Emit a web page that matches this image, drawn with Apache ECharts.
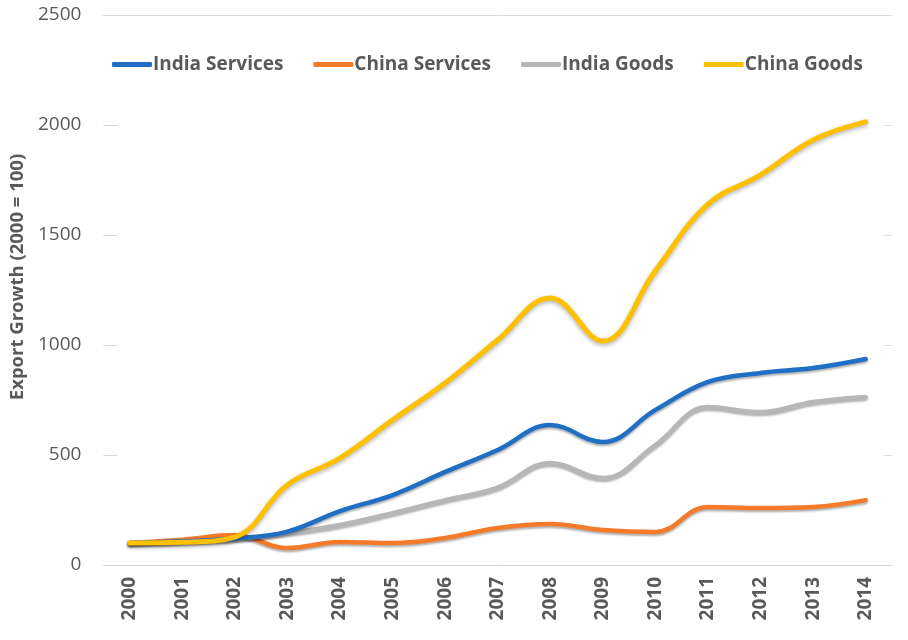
<!DOCTYPE html>
<html><head><meta charset="utf-8">
<script src="https://cdn.jsdelivr.net/npm/echarts@6/dist/echarts.min.js"></script>
<style>html,body{margin:0;padding:0;background:#fff}#c{width:908px;height:640px}</style>
</head><body><div id="c"></div>
<script>
const years = ['2000','2001','2002','2003','2004','2005','2006','2007','2008','2009','2010','2011','2012','2013','2014'];
const indiaServices = [100,108,120,152,245,318,423,523,636,559,705,832,873,895,936];
const chinaServices = [100,115,136,77,105,100,123,168,186,159,150,264,259,264,295];
const indiaGoods    = [100,106,118,145,182,236,295,352,464,395,545,718,695,741,764];
const chinaGoods    = [100,103,127,364,486,659,827,1023,1214,1018,1337,1640,1773,1932,2014];
const seriesNames = ['India Services','China Services','India Goods','China Goods'];
const colors = ['#1F6FC5','#F47B2A','#B7B7B7','#FFC000'];
const yTicks = [0,500,1000,1500,2000,2500];

const txt = '#595959';
const font = '"Open Sans", "Liberation Sans", sans-serif';
const chart = echarts.init(document.getElementById('c'), null, {renderer:'canvas'});
const dataSets = [indiaServices, chinaServices, indiaGoods, chinaGoods];
chart.setOption({
  animation:false,
  backgroundColor:'#fff',
  color: colors,
  textStyle:{fontFamily:font},
  grid:{left:97,right:16,top:15,bottom:75,containLabel:false},
  legend:{
    top:50,left:107,itemGap:30,itemWidth:40,itemHeight:5,icon:'roundRect',
    data:seriesNames,
    textStyle:{color:txt,fontSize:19,fontWeight:700,fontFamily:font,padding:[0,0,0,-4]}
  },
  xAxis:[{
    type:'category',data:years,boundaryGap:true,
    axisLine:{show:true,lineStyle:{color:'#D9D9D9',width:1}},
    axisTick:{show:false},
    axisLabel:{rotate:90,color:txt,fontSize:19,fontWeight:700,margin:12,interval:0}
  },{
    type:'category',data:years,position:'top',boundaryGap:true,
    axisLine:{show:true,lineStyle:{color:'#D9D9D9',width:1}},
    axisTick:{show:false},axisLabel:{show:false}
  }],
  yAxis:{
    type:'value',min:yTicks[0],max:yTicks[yTicks.length-1],interval:500,
    name:'Export Growth (2000 = 100)',nameLocation:'middle',nameGap:74,
    nameTextStyle:{color:txt,fontSize:18.5,fontWeight:700,fontFamily:font,padding:[0,0,0,26]},
    axisLine:{show:false},axisTick:{show:false},
    axisLabel:{color:txt,fontSize:19,margin:22,formatter:v=>String(v)},
    splitLine:{show:true,lineStyle:{color:'#D9D9D9',width:1,type:[14,767]}}
  },
  series: dataSets.map((d,i)=>({
    name:seriesNames[i],type:'line',data:d,smooth:0.4,
    symbol:'none',
    lineStyle:{width:i===3?5:4.5,color:colors[i],cap:'round',
      shadowColor:'rgba(0,0,0,0.3)',shadowBlur:i===3?4:2,shadowOffsetY:2},
    itemStyle:{color:colors[i]},
    z: i===3?5:(i===0?4:(i===2?3:2))
  }))
});
</script></body></html>
